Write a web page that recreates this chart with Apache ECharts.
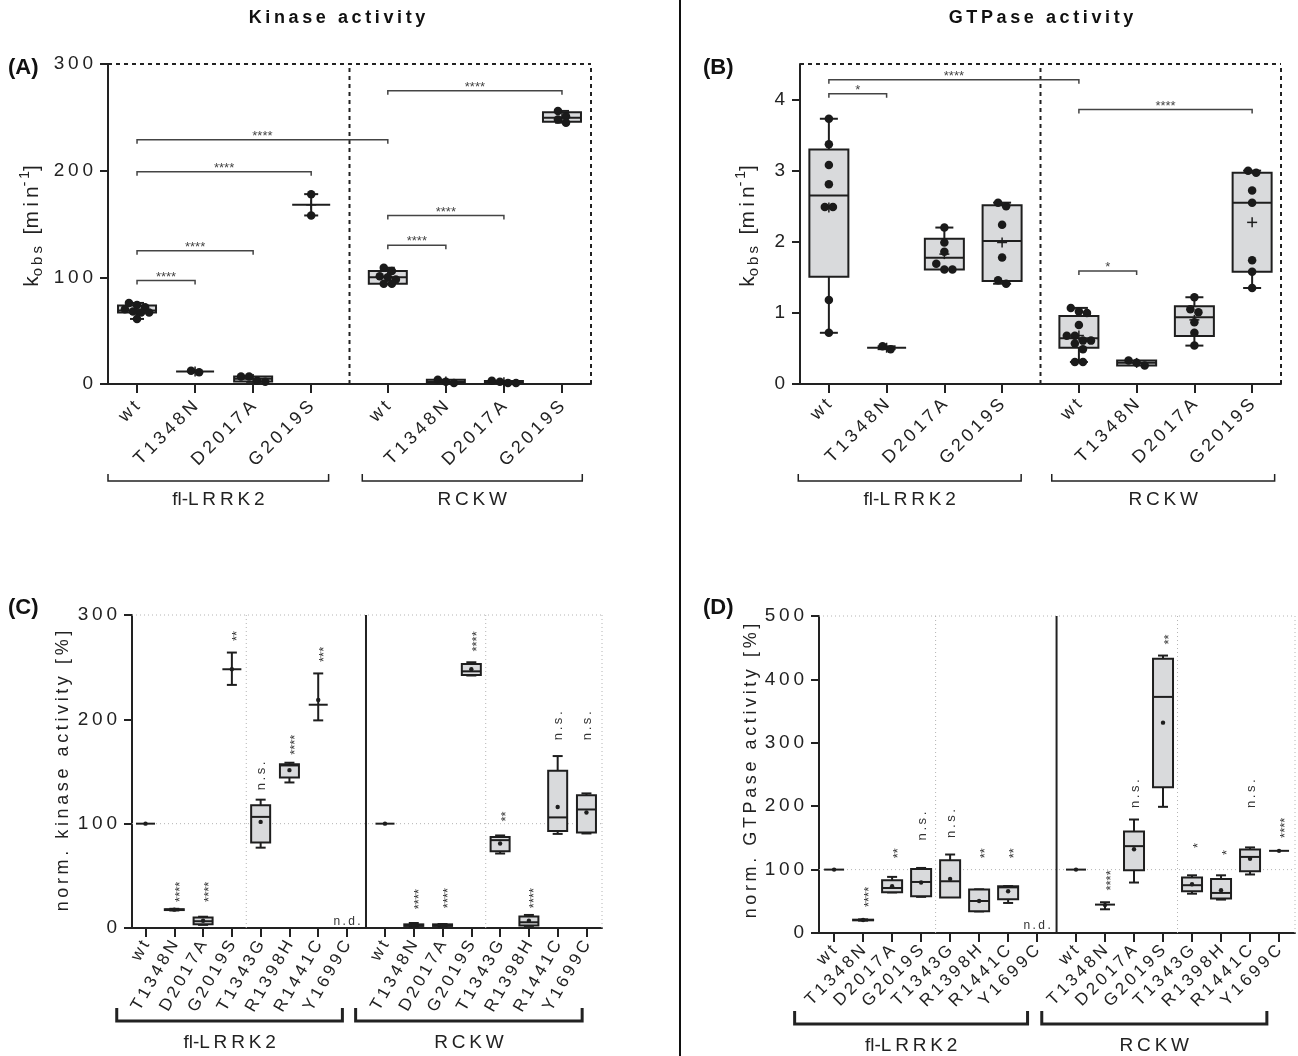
<!DOCTYPE html>
<html><head><meta charset="utf-8">
<script src="https://cdn.jsdelivr.net/npm/echarts@6.0.0/dist/echarts.min.js"></script>
<style>html,body{margin:0;padding:0;background:#fff}#c{width:1298px;height:1056px}</style>
</head><body><div id="c"></div>
<script>
const FONT = '"Liberation Sans", Arial, Helvetica, sans-serif';
const SP = '\u2009';
const sp = s => s.split('').join(SP);

// ================= DATA =================
const catsAB = ['wt', 'T1348N', 'D2017A', 'G2019S'];
const catsCD = ['wt', 'T1348N', 'D2017A', 'G2019S', 'T1343G', 'R1398H', 'R1441C', 'Y1699C'];
const groupNames = ['fl-LRRK2', 'RCKW'];
const yTicksA = [0, 100, 200, 300];
const yTicksB = [0, 1, 2, 3, 4];
const yTicksC = [0, 100, 200, 300];
const yTicksD = [0, 100, 200, 300, 400, 500];

// Panel A – kinase k_obs (min^-1), replicates
const A_fl_wt = [76, 74, 72, 70, 68, 67, 67, 61];
const A_fl_T1348N = [11, 12.5];
const A_fl_D2017A = [7, 2, 3, 7];
const A_fl_G2019S = [178, 158];
const A_rc_wt = [109, 106, 101, 98, 100, 94, 94];
const A_rc_T1348N = [4, 1, 2];
const A_rc_D2017A = [2, 1, 1, 3];
const A_rc_G2019S = [256, 251, 248, 245];

// Panel B – GTPase k_obs (min^-1), replicates
const B_fl_wt = [3.73, 3.37, 3.08, 2.81, 2.49, 2.49, 1.18, 0.72];
const B_fl_T1348N = [0.49, 0.53];
const B_fl_D2017A = [2.20, 1.99, 1.86, 1.69, 1.61, 1.61];
const B_fl_G2019S = [2.55, 2.50, 2.24, 1.78, 1.46, 1.41];
const B_rc_wt = [1.07, 1.02, 1.00, 0.83, 0.68, 0.68, 0.61, 0.61, 0.57, 0.49, 0.31, 0.31];
const B_rc_T1348N = [0.33, 0.26, 0.30];
const B_rc_D2017A = [1.22, 1.05, 1.01, 0.87, 0.72, 0.54];
const B_rc_G2019S = [3.00, 2.97, 2.72, 2.55, 1.74, 1.58, 1.35];

// significance brackets: [from index, to index, level, label] (index 0-3 fl-LRRK2, 4-7 RCKW)
const A_brackets = [[0, 1, 97, '****'], [0, 2, 125, '****'], [0, 3, 199, '****'], [0, 4, 229, '****'],
                    [4, 5, 130, '****'], [4, 6, 158, '****'], [4, 7, 275, '****']];
const B_brackets = [[0, 1, 4.08, '*'], [0, 4, 4.28, '****'], [4, 5, 1.59, '*'], [4, 7, 3.86, '****']];

// Panel C – norm. kinase activity (%) : [min, q1, median, q3, max, mean]
const C_fl = [[100, 100, 100, 100, 100, 100], [16.8, 17.2, 17.6, 18, 18.4, 17.6], [3, 3.5, 6.5, 10, 10.8, 7],
              [233, 248, 248, 248, 264, 248], [77, 82, 106.5, 117.7, 123, 101.7], [139.5, 144.3, 155.8, 157, 158.4, 151.3],
              [199, 214, 214, 214, 244, 218.5], null];
const C_rc = [[100, 100, 100, 100, 100, 100], [1.6, 2, 2.5, 3.5, 4.8, 2.8], [1.6, 2, 2.5, 3.5, 3.8, 2.6],
              [242, 242.5, 246, 253, 254.7, 248], [71.4, 73.6, 84.2, 87.3, 88.7, 81], [2, 2.3, 5.5, 11, 12.5, 7],
              [90.2, 93, 106, 150.7, 164.8, 116], [90.6, 91.5, 113.6, 127.3, 129, 110.7]];
const C_fl_sig = ['', '****', '****', '**', 'n.s.', '****', '***', 'n.d.'];
const C_fl_sigAt = [null, 25, 25, 275, 132, 166, 255, 6];
const C_rc_sig = ['', '****', '****', '****', '**', '****', 'n.s.', 'n.s.'];
const C_rc_sigAt = [null, 18, 19, 265, 102, 19, 180, 180];

// Panel D – norm. GTPase activity (%) : [min, q1, median, q3, max, mean]
const D_fl = [[100, 100, 100, 100, 100, 100], [19.5, 20, 20.5, 21, 21.5, 20.5], [64, 64.3, 71, 83.3, 88.5, 73.7],
              [57, 58, 80.5, 101, 102.6, 79.6], [55.8, 55.8, 81.6, 114.8, 123.8, 85.3], [34, 34.2, 50.5, 68.5, 68.9, 50.5],
              [47.4, 53.2, 72, 73.7, 74, 65.8], null];
const D_rc = [[100, 100, 100, 100, 100, 100], [37.4, 44.8, 44.8, 44.8, 48.5, 44], [79.6, 99, 137, 160.2, 179, 132.2],
              [199, 229.7, 372.4, 432.4, 437.6, 331.8], [62, 65.9, 75.4, 87.5, 91, 77], [52.7, 54.3, 63.2, 85.3, 91, 67.5],
              [92.3, 97.5, 120, 131.7, 135, 117], [129.6, 129.6, 129.6, 129.6, 129.6, 129.6]];
const D_fl_sig = ['', '****', '**', 'n.s.', 'n.s.', '**', '**', 'n.d.'];
const D_fl_sigAt = [null, 41, 118, 146, 150, 118, 118, 12];
const D_rc_sig = ['', '****', 'n.s.', '**', '*', '*', 'n.s.', '****'];
const D_rc_sigAt = [null, 67, 197, 455, 134, 123, 197, 150];

// ================= LAYOUT =================
const panels = [
  {key: 'A', grid: {left: 108, top: 64, width: 483, height: 320}, xMin: -0.5, xMax: 7.82, gap: 1.32, cats: catsAB,
   yMax: 300, yTicks: yTicksA, rot: 45, xFont: 18, xMargin: 20, boxW: 38, capW: 14, mean: 'plus', frame: 'dashed',
   grpLine: 97, grpText: 116, grpLW: 1.5, grpTick: 7, spans: [[-0.5, 3.3], [3.88, 7.67]],
   groups: [[A_fl_wt, A_fl_T1348N, A_fl_D2017A, A_fl_G2019S], [A_rc_wt, A_rc_T1348N, A_rc_D2017A, A_rc_G2019S]],
   brackets: A_brackets},
  {key: 'B', grid: {left: 800, top: 64, width: 481, height: 320}, xMin: -0.5, xMax: 7.83, gap: 1.33, cats: catsAB,
   yMax: 4.5, yTicks: yTicksB, rot: 45, xFont: 18, xMargin: 18, boxW: 39, capW: 18, mean: 'plus', frame: 'dashed',
   grpLine: 97, grpText: 116, grpLW: 1.5, grpTick: 7, spans: [[-0.53, 3.33], [3.86, 7.72]],
   groups: [[B_fl_wt, B_fl_T1348N, B_fl_D2017A, B_fl_G2019S], [B_rc_wt, B_rc_T1348N, B_rc_D2017A, B_rc_G2019S]],
   brackets: B_brackets},
  {key: 'C', grid: {left: 132, top: 615, width: 470, height: 313}, xMin: -0.47, xMax: 15.86, gap: 1.32, cats: catsCD,
   yMax: 300, yTicks: yTicksC, rot: 60, xFont: 17, xMargin: 14, boxW: 19, capW: 10, mean: 'dot', frame: 'dotted',
   grpLine: 93, grpText: 115, grpLW: 3, grpTick: 13, spans: [[-1.0, 6.84], [7.3, 15.17]],
   stats: [C_fl, C_rc], sig: [C_fl_sig, C_rc_sig], sigAt: [C_fl_sigAt, C_rc_sigAt]},
  {key: 'D', grid: {left: 819, top: 616, width: 476, height: 317}, xMin: -0.52, xMax: 15.89, gap: 1.34, cats: catsCD,
   yMax: 500, yTicks: yTicksD, rot: 45, xFont: 17, xMargin: 15, boxW: 20, capW: 10, mean: 'dot', frame: 'dotted',
   grpLine: 91, grpText: 113, grpLW: 3, grpTick: 13, spans: [[-1.36, 6.67], [7.16, 14.92]],
   stats: [D_fl, D_rc], sig: [D_fl_sig, D_rc_sig], sigAt: [D_fl_sigAt, D_rc_sigAt]}
];

const pos = (p, k, g) => k + g * (p.cats.length - 1 + p.gap);
const posG = (p, i) => pos(p, i % p.cats.length, Math.floor(i / p.cats.length));

function q6(s, pr) {
  const n = s.length, h = (n + 1) * pr;
  if (h <= 1) return s[0];
  if (h >= n) return s[n - 1];
  const lo = Math.floor(h);
  return s[lo - 1] + (h - lo) * (s[lo] - s[lo - 1]);
}
function stats(vals) {
  const s = [...vals].sort((a, b) => a - b), n = s.length;
  const med = n % 2 ? s[(n - 1) / 2] : (s[n / 2 - 1] + s[n / 2]) / 2;
  let q1 = med, q3 = med;
  if (n >= 3) { q1 = q6(s, 0.25); q3 = q6(s, 0.75); }
  const mean = s.reduce((a, b) => a + b, 0) / n;
  return [s[0], q1, med, q3, s[n - 1], mean];
}
function swarm(vals, x0, pxX, pxY, d) {
  const s = [...vals].sort((a, b) => b - a);
  const rows = []; let cur = [];
  s.forEach(v => {
    if (cur.length && (cur[0] - v) * pxY > d * 0.75) { rows.push(cur); cur = []; }
    cur.push(v);
  });
  if (cur.length) rows.push(cur);
  const out = [];
  rows.forEach(r => {
    const k = r.length;
    r.forEach((v, i) => out.push([x0 + (i - (k - 1) / 2) * d * 0.95 / pxX, v]));
  });
  return out;
}

const L = (x1, y1, x2, y2, st) => ({type: 'line', shape: {x1, y1, x2, y2}, style: Object.assign({}, st)});

function boxRenderer(p) {
  return function (params, api) {
    const x = api.value(0);
    const mn = api.value(1), q1 = api.value(2), md = api.value(3), q3 = api.value(4), mx = api.value(5), mean = api.value(6);
    const py = v => api.coord([x, v])[1];
    const cx = api.coord([x, md])[0];
    const hb = p.boxW / 2, hc = p.capW / 2;
    const st = {stroke: '#1e1e1e', lineWidth: 2};
    const ch = [];
    if (mx > q3) { ch.push(L(cx, py(mx), cx, py(q3), st)); ch.push(L(cx - hc, py(mx), cx + hc, py(mx), st)); }
    if (mn < q1) { ch.push(L(cx, py(q1), cx, py(mn), st)); ch.push(L(cx - hc, py(mn), cx + hc, py(mn), st)); }
    if (q3 > q1) ch.push({type: 'rect', shape: {x: cx - hb, y: py(q3), width: p.boxW, height: py(q1) - py(q3)},
                          style: {fill: '#d9dadc', stroke: '#1e1e1e', lineWidth: 2}});
    ch.push(L(cx - hb, py(md), cx + hb, py(md), st));
    const pm = py(mean);
    if (p.mean === 'plus') {
      ch.push(L(cx - 5, pm, cx + 5, pm, {stroke: '#1e1e1e', lineWidth: 1.5}));
      ch.push(L(cx, pm - 5, cx, pm + 5, {stroke: '#1e1e1e', lineWidth: 1.5}));
    } else {
      ch.push({type: 'circle', shape: {cx: cx, cy: pm, r: 2.2}, style: {fill: '#1e1e1e'}});
    }
    return {type: 'group', children: ch};
  };
}

function frameRenderer(p) {
  return function (params, api) {
    const c = (x, y) => api.coord([x, y]);
    const ch = [];
    const seg = (a, b, st) => ch.push(L(a[0], a[1], b[0], b[1], st));
    const mid = (p.cats.length - 1) + p.gap / 2;
    if (p.frame === 'dashed') {
      const ds = {stroke: '#222', lineWidth: 2, lineDash: [4, 4]};
      seg(c(p.xMin, p.yMax), c(p.xMax, p.yMax), ds);
      seg(c(p.xMax, 0), c(p.xMax, p.yMax), ds);
      seg(c(mid, 0), c(mid, p.yMax), ds);
    } else {
      const dt = {stroke: '#b4b4b4', lineWidth: 1, lineDash: [1, 3]};
      seg(c(p.xMin, p.yMax), c(p.xMax, p.yMax), dt);
      seg(c(p.xMin, 100), c(p.xMax, 100), dt);
      seg(c(p.xMax, 0), c(p.xMax, p.yMax), dt);
      seg(c(3.5, 0), c(3.5, p.yMax), dt);
      seg(c(pos(p, 3.5, 1), 0), c(pos(p, 3.5, 1), p.yMax), dt);
      seg(c(mid, 0), c(mid, p.yMax), {stroke: '#222', lineWidth: 2});
    }
    return {type: 'group', children: ch};
  };
}

function bracketRenderer(labels) {
  return function (params, api) {
    const p1 = api.coord([api.value(0), api.value(2)]);
    const p2 = api.coord([api.value(1), api.value(2)]);
    const t = 4;
    return {type: 'group', children: [
      {type: 'polyline', shape: {points: [[p1[0], p1[1] + t], [p1[0], p1[1]], [p2[0], p2[1]], [p2[0], p2[1] + t]]},
       style: {stroke: '#444', lineWidth: 1.5, fill: 'none'}},
      {type: 'text', x: (p1[0] + p2[0]) / 2, y: p1[1] + 3,
       style: {text: labels[params.dataIndex], font: '13px ' + FONT, fill: '#444', textAlign: 'center', textVerticalAlign: 'bottom'}}
    ]};
  };
}

function annotRenderer(labels) {
  return function (params, api) {
    const pt = api.coord([api.value(0), api.value(1)]);
    const t = labels[params.dataIndex];
    if (t === 'n.d.') {
      return {type: 'text', x: pt[0], y: pt[1],
              style: {text: sp(t), font: '12px ' + FONT, fill: '#333', textAlign: 'center', textVerticalAlign: 'middle'}};
    }
    const dx = t.indexOf('*') >= 0 ? 6 : 1;
    return {type: 'text', x: pt[0] + dx, y: pt[1], rotation: Math.PI / 2,
            style: {text: t === 'n.s.' ? sp(t) : t, font: '13px ' + FONT, fill: '#333', textAlign: 'left', textVerticalAlign: 'middle'}};
  };
}

function groupRenderer(p) {
  return function (params, api) {
    const x1 = api.coord([api.value(0), 0])[0];
    const x2 = api.coord([api.value(1), 0])[0];
    const y0 = api.coord([0, 0])[1];
    const yl = y0 + p.grpLine;
    const name = groupNames[params.dataIndex];
    const txt = name === 'RCKW' ? sp(name) : 'fl-' + sp('LRRK2');
    return {type: 'group', children: [
      {type: 'polyline', shape: {points: [[x1, yl - p.grpTick], [x1, yl], [x2, yl], [x2, yl - p.grpTick]]},
       style: {stroke: '#222', lineWidth: p.grpLW, fill: 'none'}},
      {type: 'text', x: (x1 + x2) / 2, y: y0 + p.grpText,
       style: {text: txt, font: '19px ' + FONT, fill: '#222', textAlign: 'center', textVerticalAlign: 'middle'}}
    ]};
  };
}

const option = {
  animation: false,
  backgroundColor: '#ffffff',
  textStyle: {fontFamily: FONT},
  grid: [], xAxis: [], yAxis: [], series: [], graphic: []
};

panels.forEach((p, i) => {
  option.grid.push(Object.assign({containLabel: false, outerBoundsMode: 'none', show: false}, p.grid));
  const xs = [];
  for (let g = 0; g < 2; g++) for (let k = 0; k < p.cats.length; k++) xs.push(pos(p, k, g));
  option.xAxis.push({
    type: 'value', gridIndex: i, min: p.xMin, max: p.xMax,
    axisLine: {show: true, onZero: false, lineStyle: {color: '#222', width: 2}},
    axisTick: {show: true, customValues: xs, length: 9, lineStyle: {color: '#222', width: 2}},
    axisLabel: {show: true, customValues: xs, rotate: p.rot, fontSize: p.xFont, color: '#222', fontFamily: FONT,
      margin: p.xMargin, hideOverlap: false,
      formatter: v => { const j = xs.findIndex(q => Math.abs(q - v) < 0.01); return j < 0 ? '' : sp(p.cats[j % p.cats.length]); }},
    splitLine: {show: false}
  });
  option.yAxis.push({
    type: 'value', gridIndex: i, min: 0, max: p.yMax,
    axisLine: {show: true, onZero: false, lineStyle: {color: '#222', width: 2}},
    axisTick: {show: true, customValues: p.yTicks, length: 8, lineStyle: {color: '#222', width: 2}},
    axisLabel: {show: true, customValues: p.yTicks, fontSize: 19, color: '#222', fontFamily: FONT, margin: 15,
      formatter: v => sp(String(v))},
    splitLine: {show: false}
  });
  // frame / guide lines
  option.series.push({type: 'custom', xAxisIndex: i, yAxisIndex: i, z: 1, silent: true,
    renderItem: frameRenderer(p), data: [[0, 0]]});
  // boxes
  const boxData = [];
  for (let g = 0; g < 2; g++) for (let k = 0; k < p.cats.length; k++) {
    let s = null;
    if (p.groups) s = stats(p.groups[g][k]);
    else s = p.stats[g][k];
    if (s) boxData.push([pos(p, k, g)].concat(s));
  }
  option.series.push({type: 'custom', xAxisIndex: i, yAxisIndex: i, z: 2, silent: true,
    renderItem: boxRenderer(p), encode: {x: 0, y: [1, 2, 3, 4, 5]}, data: boxData});
  if (p.groups) {
    const pxX = p.grid.width / (p.xMax - p.xMin), pxY = p.grid.height / p.yMax;
    let pts = [];
    for (let g = 0; g < 2; g++) for (let k = 0; k < p.cats.length; k++)
      pts = pts.concat(swarm(p.groups[g][k], pos(p, k, g), pxX, pxY, 8.5));
    option.series.push({type: 'scatter', xAxisIndex: i, yAxisIndex: i, z: 3, silent: true, symbolSize: 8.5,
      itemStyle: {color: '#1a1a1a', opacity: 1}, data: pts});
    option.series.push({type: 'custom', xAxisIndex: i, yAxisIndex: i, z: 4, silent: true,
      renderItem: bracketRenderer(p.brackets.map(b => b[3])),
      data: p.brackets.map(b => [posG(p, b[0]), posG(p, b[1]), b[2]])});
  } else {
    const ad = [], al = [];
    for (let g = 0; g < 2; g++) for (let k = 0; k < p.cats.length; k++) {
      if (p.sig[g][k]) { ad.push([pos(p, k, g), p.sigAt[g][k]]); al.push(p.sig[g][k]); }
    }
    option.series.push({type: 'custom', xAxisIndex: i, yAxisIndex: i, z: 4, silent: true,
      renderItem: annotRenderer(al), data: ad});
  }
  option.series.push({type: 'custom', xAxisIndex: i, yAxisIndex: i, z: 4, silent: true,
    renderItem: groupRenderer(p), data: p.spans});
});

const kobs = {
  text: '{k|k}{s|' + sp('obs') + '}{k|  [' + sp('min') + '}{p|' + sp('-1') + '}{k|]}',
  rich: {
    k: {fontSize: 21, fontFamily: FONT, fill: '#222', lineHeight: 27},
    s: {fontSize: 15, fontFamily: FONT, fill: '#222', lineHeight: 15, verticalAlign: 'bottom'},
    p: {fontSize: 14, fontFamily: FONT, fill: '#222', lineHeight: 14, verticalAlign: 'top'}
  }
};
const rotText = (x, y, style) => ({type: 'text', x, y, rotation: Math.PI / 2,
  style: Object.assign({textAlign: 'center', textVerticalAlign: 'middle', fill: '#222', font: '18px ' + FONT}, style)});

option.graphic = [
  {type: 'line', shape: {x1: 680, y1: 0, x2: 680, y2: 1056}, style: {stroke: '#111', lineWidth: 2}},
  {type: 'text', x: 337, y: 18, style: {text: sp('Kinase activity'), font: 'bold 18px ' + FONT, fill: '#111', textAlign: 'center', textVerticalAlign: 'middle'}},
  {type: 'text', x: 1041, y: 18, style: {text: sp('GTPase activity'), font: 'bold 18px ' + FONT, fill: '#111', textAlign: 'center', textVerticalAlign: 'middle'}},
  {type: 'text', x: 8, y: 68, style: {text: '(A)', font: 'bold 22px ' + FONT, fill: '#111', textAlign: 'left', textVerticalAlign: 'middle'}},
  {type: 'text', x: 703, y: 68, style: {text: '(B)', font: 'bold 22px ' + FONT, fill: '#111', textAlign: 'left', textVerticalAlign: 'middle'}},
  {type: 'text', x: 8, y: 608, style: {text: '(C)', font: 'bold 22px ' + FONT, fill: '#111', textAlign: 'left', textVerticalAlign: 'middle'}},
  {type: 'text', x: 703, y: 608, style: {text: '(D)', font: 'bold 22px ' + FONT, fill: '#111', textAlign: 'left', textVerticalAlign: 'middle'}},
  rotText(32, 226, kobs),
  rotText(748, 226, kobs),
  rotText(63, 771, {text: sp('norm. kinase activity [%]')}),
  rotText(751, 771, {text: sp('norm. GTPase activity [%]')})
];

const chart = echarts.init(document.getElementById('c'), null, {renderer: 'canvas'});
chart.setOption(option);
</script>
</body></html>
